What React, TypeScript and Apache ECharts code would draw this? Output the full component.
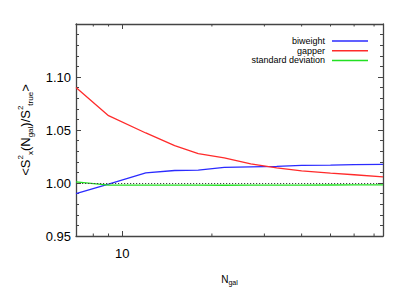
import React, { useEffect, useRef } from "react";
import * as echarts from "echarts";

const N = [7, 9, 12, 15, 18, 22, 27, 33, 40, 50, 60, 75];
const biweight = [0.99, 0.999, 1.0096, 1.0118, 1.0122, 1.0148, 1.0152, 1.0156, 1.0167, 1.0168, 1.0173, 1.0176];
const gapper = [1.09, 1.0635, 1.0472, 1.0352, 1.0278, 1.0238, 1.018, 1.0143, 1.0115, 1.0093, 1.0078, 1.0057];
const stddev = [1.001, 0.998, 0.998, 0.998, 0.998, 0.9979, 0.998, 0.998, 0.998, 0.9981, 0.9982, 0.9983];
const minorTicksX = [8, 9, 20, 30, 40, 50, 60, 70];
const seriesNames = ["biweight", "gapper", "standard deviation"];
const seriesColors = ["#2b2bff", "#ff2b2b", "#22e022"];

const FONT = "'Liberation Sans', Arial, Helvetica, sans-serif";
const AX = "#444";

export default function App() {
  const ref = useRef<HTMLDivElement>(null);
  useEffect(() => {
    const chart = echarts.init(ref.current!, null, { renderer: "svg" });
    const toPairs = (arr: number[]) => N.map((n, i) => [n, arr[i]]);
    const yAxisBase = {
      type: "value",
      min: 0.95,
      max: 1.15,
      interval: 0.05,
      axisLine: { show: true, lineStyle: { color: AX, width: 1.3 } },
      axisTick: { show: true, inside: true, length: 5, lineStyle: { color: AX } },
      minorTick: { show: true, splitNumber: 5, length: 3, lineStyle: { color: AX } },
      splitLine: { show: false },
    };
    const legendItems: any[] = [];
    seriesNames.forEach((name, i) => {
      const y = 41 + i * 9.7;
      legendItems.push({
        type: "text",
        x: 325,
        y,
        style: { text: name, font: `9px ${FONT}`, fill: "#000", align: "right", verticalAlign: "middle" },
      });
      legendItems.push({
        type: "line",
        shape: { x1: 332, y1: y, x2: 368, y2: y },
        style: { stroke: seriesColors[i], lineWidth: 1.5 },
      });
    });
    chart.setOption({
      animation: false,
      backgroundColor: "#fff",
      textStyle: { fontFamily: FONT },
      grid: { left: 76, right: 24, top: 24, bottom: 49 },
      xAxis: [
        {
          type: "log",
          logBase: 10,
          min: 7,
          max: 75,
          position: "bottom",
          name: "N{sub|gal}",
          nameLocation: "middle",
          nameGap: 36,
          nameTextStyle: {
            fontSize: 10,
            color: "#000",
            fontFamily: FONT,
            lineHeight: 14,
            rich: { sub: { fontSize: 7, verticalAlign: "bottom", lineHeight: 14, fontFamily: FONT, color: "#000" } },
          },
          axisLine: { show: true, lineStyle: { color: AX, width: 1.3 } },
          axisTick: { show: true, inside: true, length: 5, lineStyle: { color: AX } },
          axisLabel: {
            fontSize: 13,
            color: "#000",
            margin: 11,
            showMinLabel: false,
            showMaxLabel: false,
            formatter: (v: number) => (Math.abs(v - 10) < 1e-6 ? "10" : ""),
          },
          splitLine: { show: false },
          minorTick: { show: false },
        },
        {
          type: "log",
          logBase: 10,
          min: 7,
          max: 75,
          position: "top",
          axisLine: { show: true, lineStyle: { color: AX, width: 1.3 } },
          axisTick: { show: true, inside: true, length: 5, lineStyle: { color: AX } },
          axisLabel: { show: false },
          splitLine: { show: false },
        },
      ],
      yAxis: [
        {
          ...yAxisBase,
          position: "left",
          name: "<S{sup|2}{sub|x}(N{sub|gal})/S{sup|2}{sub|true}>",
          nameLocation: "middle",
          nameRotate: 90,
          nameGap: 42,
          nameTextStyle: {
            fontSize: 13,
            color: "#000",
            fontFamily: FONT,
            lineHeight: 18,
            rich: {
              sup: { fontSize: 8, verticalAlign: "top", lineHeight: 18, fontFamily: FONT, color: "#000" },
              sub: { fontSize: 8, verticalAlign: "bottom", lineHeight: 18, fontFamily: FONT, color: "#000" },
            },
          },
          axisLabel: {
            fontSize: 13,
            color: "#000",
            margin: 5,
            showMaxLabel: false,
            formatter: (v: number) => v.toFixed(2),
          },
        },
        {
          ...yAxisBase,
          position: "right",
          axisLabel: { show: false },
        },
      ],
      graphic: legendItems,
      series: [
        {
          name: seriesNames[0],
          type: "line",
          data: toPairs(biweight),
          showSymbol: false,
          lineStyle: { color: seriesColors[0], width: 1.3 },
          itemStyle: { color: seriesColors[0] },
          markLine: {
            silent: true,
            symbol: "none",
            label: { show: false },
            lineStyle: { color: "#444", type: [1.2, 1.8], width: 1.2 },
            data: [{ yAxis: 1 }],
          },
          z: 3,
        },
        {
          name: seriesNames[1],
          type: "line",
          data: toPairs(gapper),
          showSymbol: false,
          lineStyle: { color: seriesColors[1], width: 1.3 },
          itemStyle: { color: seriesColors[1] },
          z: 3,
        },
        {
          name: seriesNames[2],
          type: "line",
          data: toPairs(stddev),
          showSymbol: false,
          lineStyle: { color: seriesColors[2], width: 1.3 },
          itemStyle: { color: seriesColors[2] },
          z: 3,
        },
        {
          name: "minorTicks",
          type: "custom",
          silent: true,
          clip: false,
          data: minorTicksX.map((v) => [v, 0.95]),
          renderItem: (params: any, api: any) => {
            const x = api.value(0);
            const b = api.coord([x, 0.95]);
            const t = api.coord([x, 1.15]);
            const st = { stroke: AX, lineWidth: 1 };
            return {
              type: "group",
              children: [
                { type: "line", shape: { x1: b[0], y1: b[1], x2: b[0], y2: b[1] - 2.5 }, style: st },
                { type: "line", shape: { x1: t[0], y1: t[1], x2: t[0], y2: t[1] + 2.5 }, style: st },
              ],
            };
          },
        },
      ],
    });
    return () => chart.dispose();
  }, []);
  return <div ref={ref} style={{ width: 407, height: 291, position: "fixed", left: 0, top: 0 }} />;
}
